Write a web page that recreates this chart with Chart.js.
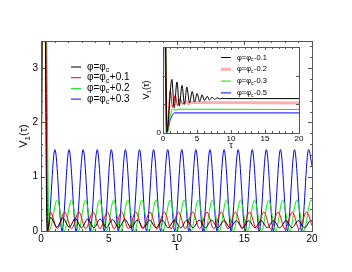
<!DOCTYPE html>
<html>
<head>
<meta charset="utf-8">
<script src="https://cdn.jsdelivr.net/npm/chart.js@4.4.0/dist/chart.umd.min.js"></script>
<style>
  body { margin: 0; background: #fff; }
  #wrap { position: relative; width: 352px; height: 272px; }
  canvas { position: absolute; left: 0; top: 0; }
</style>
</head>
<body>
<div id="wrap">
  <canvas id="main" width="352" height="272"></canvas>
  <canvas id="inset" width="352" height="272"></canvas>
</div>
<script>
// main panel: V1(tau), peaks and troughs
const mainLabels = ['+0', '+0.1', '+0.2', '+0.3'];
const mainColors = ['#000000', '#ff0000', '#00ee00', '#0000ff'];
const xTicks = [0, 5, 10, 15, 20];
const yTicks = [0, 1, 2, 3];

const seriesBlack = [[0,0],[0.18,8],[0.45,0],[0.71,0.25],[1.17,0.07],[1.62,0.24],[2.08,0.07],[2.54,0.23],[2.99,0.06],[3.45,0.22],[3.91,0.06],[4.37,0.22],[4.82,0.06],[5.28,0.21],[5.74,0.06],[6.19,0.21],[6.65,0.06],[7.11,0.2],[7.56,0.06],[8.02,0.2],[8.48,0.06],[8.94,0.2],[9.39,0.06],[9.85,0.2],[10.31,0.06],[10.76,0.2],[11.22,0.06],[11.68,0.2],[12.13,0.06],[12.59,0.2],[13.05,0.06],[13.51,0.19],[13.96,0.06],[14.42,0.19],[14.87,0.06],[15.33,0.19],[15.79,0.06],[16.25,0.19],[16.7,0.06],[17.16,0.19],[17.62,0.06],[18.08,0.19],[18.53,0.06],[18.99,0.19],[19.45,0.06],[19.9,0.19],[20,0.18]];
const seriesRed = [[0,0],[0.2,8],[0.5,0],[0.7,0.35],[1.2,0.04],[1.75,0.35],[2.25,0.04],[2.8,0.35],[3.3,0.04],[3.85,0.35],[4.35,0.04],[4.9,0.35],[5.4,0.04],[5.95,0.35],[6.45,0.04],[7.0,0.35],[7.5,0.04],[8.05,0.35],[8.55,0.04],[9.1,0.35],[9.6,0.04],[10.15,0.35],[10.65,0.04],[11.2,0.35],[11.7,0.04],[12.25,0.35],[12.75,0.04],[13.3,0.35],[13.8,0.04],[14.35,0.35],[14.85,0.04],[15.4,0.35],[15.9,0.04],[16.45,0.35],[16.95,0.04],[17.5,0.35],[18.0,0.04],[18.55,0.35],[19.05,0.04],[19.6,0.35],[20,0.1]];
const seriesGreen = [[0,0],[0.22,8],[0.6,0],[1.2,0.57],[1.72,0],[2.24,0.57],[2.76,0],[3.28,0.57],[3.8,0],[4.32,0.57],[4.84,0],[5.36,0.57],[5.88,0],[6.4,0.57],[6.92,0],[7.44,0.57],[7.96,0],[8.48,0.57],[9.0,0],[9.52,0.57],[10.04,0],[10.56,0.57],[11.08,0],[11.6,0.57],[12.12,0],[12.64,0.57],[13.16,0],[13.68,0.57],[14.2,0],[14.72,0.57],[15.24,0],[15.76,0.57],[16.28,0],[16.8,0.57],[17.32,0],[17.84,0.57],[18.36,0],[18.88,0.57],[19.4,0],[19.92,0.57],[20,0.55]];
const seriesBlue = [[0,0],[0.2,8],[0.5,0],[1.03,1.5],[1.55,0],[2.07,1.5],[2.59,0],[3.11,1.5],[3.63,0],[4.15,1.5],[4.67,0],[5.19,1.5],[5.71,0],[6.23,1.5],[6.75,0],[7.27,1.5],[7.79,0],[8.31,1.5],[8.83,0],[9.35,1.5],[9.87,0],[10.39,1.5],[10.91,0],[11.43,1.5],[11.95,0],[12.47,1.5],[12.99,0],[13.51,1.5],[14.03,0],[14.55,1.5],[15.07,0],[15.59,1.5],[16.11,0],[16.63,1.5],[17.15,0],[17.67,1.5],[18.19,0],[18.71,1.5],[19.23,0],[19.75,1.5],[20,1.2]];

// inset panel
const insetLabels = ['-0.1', '-0.2', '-0.3', '-0.5'];
const insetColors = ['#000000', '#ff0000', '#00ee00', '#0000ff'];
const insetXTicks = [0, 5, 10, 15, 20];
const insetYTicks = [0];

const insetBlack = [[0,0],[0.18,6],[0.6,0.05],[1.3,1.87],[1.65,0.88],[2.05,1.78],[2.4,0.95],[2.8,1.66],[3.15,1.0],[3.5,1.6],[3.9,1.05],[4.3,1.45],[4.65,1.08],[5.0,1.38],[5.4,1.1],[5.75,1.33],[6.1,1.13],[6.5,1.28],[6.85,1.15],[7.2,1.25],[7.6,1.17],[7.95,1.23],[8.3,1.19],[8.7,1.21],[9.2,1.2],[20,1.2]];
const insetRed = [[0,0],[0.2,6],[0.6,0.05],[1.07,1.49],[1.4,0.9],[1.8,1.32],[2.15,0.95],[2.5,1.2],[2.9,1.0],[3.3,1.1],[3.7,1.03],[4.2,1.06],[20,1.05]];
const insetGreen = [[0,0],[0.22,6],[0.65,0],[1.0,0.5],[1.4,0.84],[1.8,0.8],[2.3,0.83],[20,0.82]];
const insetBlue = [[0,0],[0.15,6],[0.5,0],[1.1,0.48],[1.7,0.7],[20,0.7]];

function toPoints(arr){
    return arr.map(p => ({x: p[0], y: p[1]}));
}

function makeDataset(arr, color, width){
    return {
        data: toPoints(arr),
        borderColor: color,
        borderWidth: width,
        pointRadius: 0,
        cubicInterpolationMode: 'monotone',
        fill: false
    };
}

// draws frame + inward tick marks on all four sides
function frameTicks(xMajor, xMinor, yMajor, yMinor, majLen, minLen){
    return {
        id: 'frameTicks',
        afterDatasetsDraw(chart){
            const ctx = chart.ctx;
            const a = chart.chartArea;
            const xs = chart.scales.x, ys = chart.scales.y;
            ctx.save();
            ctx.strokeStyle = '#555';
            ctx.lineWidth = 1;
            ctx.strokeRect(Math.round(a.left) + 0.5, Math.round(a.top) + 0.5, Math.round(a.right - a.left), Math.round(a.bottom - a.top));
            ctx.beginPath();
            for(let v = xs.min; v <= xs.max + 1e-9; v += xMinor){
                let len = Math.abs(v / xMajor - Math.round(v / xMajor)) < 1e-6 ? majLen : minLen;
                let px = Math.round(xs.getPixelForValue(v)) + 0.5;
                ctx.moveTo(px, a.bottom); ctx.lineTo(px, a.bottom - len);
                ctx.moveTo(px, a.top); ctx.lineTo(px, a.top + len);
            }
            for(let v = ys.min; v <= ys.max + 1e-9; v += yMinor){
                let len = Math.abs(v / yMajor - Math.round(v / yMajor)) < 1e-6 ? majLen : minLen;
                let py = Math.round(ys.getPixelForValue(v)) + 0.5;
                ctx.moveTo(a.left, py); ctx.lineTo(a.left + len, py);
                ctx.moveTo(a.right, py); ctx.lineTo(a.right - len, py);
            }
            ctx.stroke();
            ctx.restore();
        }
    };
}

// legend + axis titles with subscripts, drawn as canvas text
function phiLabel(ctx, x, y, suffix, size){
    ctx.font = size + 'px "Liberation Sans", Arial, sans-serif';
    ctx.textBaseline = 'middle';
    ctx.textAlign = 'left';
    let t = '\u03c6=\u03c6';
    ctx.fillText(t, x, y);
    let w = ctx.measureText(t).width;
    ctx.font = Math.round(size * 0.7) + 'px "Liberation Sans", Arial, sans-serif';
    ctx.fillText('c', x + w, y + size * 0.3);
    let wc = ctx.measureText('c').width;
    ctx.font = size + 'px "Liberation Sans", Arial, sans-serif';
    if(suffix) ctx.fillText(suffix, x + w + wc + 0.5, y);
}

function vTitle(ctx, cx, cy, size){
    ctx.save();
    ctx.translate(cx, cy);
    ctx.rotate(-Math.PI / 2);
    ctx.textBaseline = 'middle';
    ctx.textAlign = 'left';
    ctx.font = size + 'px "Liberation Sans", Arial, sans-serif';
    let wV = ctx.measureText('V').width;
    ctx.font = Math.round(size * 0.7) + 'px "Liberation Sans", Arial, sans-serif';
    let w1 = ctx.measureText('1').width;
    ctx.font = size + 'px "Liberation Sans", Arial, sans-serif';
    let wT = ctx.measureText('(\u03c4)').width;
    let x0 = -(wV + w1 + wT) / 2;
    ctx.fillText('V', x0, 0);
    ctx.font = Math.round(size * 0.7) + 'px "Liberation Sans", Arial, sans-serif';
    ctx.fillText('1', x0 + wV, size * 0.3);
    ctx.font = size + 'px "Liberation Sans", Arial, sans-serif';
    ctx.fillText('(\u03c4)', x0 + wV + w1, 0);
    ctx.restore();
}

function decorations(opts){
    return {
        id: 'decorations',
        afterDraw(chart){
            const ctx = chart.ctx;
            const a = chart.chartArea;
            ctx.save();
            ctx.fillStyle = '#000';
            vTitle(ctx, opts.vx, (a.top + a.bottom) / 2 + opts.vdy, opts.titleSize);
            ctx.font = opts.titleSize + 'px "Liberation Sans", Arial, sans-serif';
            ctx.textAlign = 'center';
            ctx.textBaseline = 'middle';
            ctx.fillText('\u03c4', (a.left + a.right) / 2, opts.tauY);
            opts.labels.forEach((lab, i) => {
                let y = opts.legY + i * opts.legGap;
                ctx.strokeStyle = opts.colors[i];
                ctx.lineWidth = opts.legWidths[i];
                ctx.beginPath();
                ctx.moveTo(opts.legX, y); ctx.lineTo(opts.legX + opts.legLen, y);
                ctx.stroke();
                ctx.fillStyle = '#000';
                phiLabel(ctx, opts.legX + opts.legLen + 6, y, lab === '+0' ? '' : lab, opts.legSize);
            });
            ctx.restore();
        }
    };
}

function tickFont(size){
    return {family: '"Liberation Sans", Arial, sans-serif', size: size};
}

// main chart
new Chart(document.getElementById('main'), {
    type: 'line',
    data: {
        datasets: [
            makeDataset(seriesBlack, mainColors[0], 1),
            makeDataset(seriesRed, mainColors[1], 1),
            makeDataset(seriesGreen, mainColors[2], 1),
            makeDataset(seriesBlue, mainColors[3], 1)
        ]
    },
    options: {
        responsive: false,
        animation: false,
        events: [],
        layout: {padding: {left: 6, right: 40, top: 41, bottom: 27}},
        plugins: {legend: {display: false}, tooltip: {enabled: false}},
        scales: {
            x: {
                type: 'linear', min: 0, max: 20,
                grid: {display: false, drawTicks: false}, border: {display: false},
                afterBuildTicks: s => { s.ticks = xTicks.map(v => ({value: v})); },
                afterFit: s => { s.height = 14; },
                ticks: {color: '#000', font: tickFont(10), padding: 2, maxRotation: 0}
            },
            y: {
                type: 'linear', min: 0, max: 3.5,
                grid: {display: false, drawTicks: false}, border: {display: false},
                afterBuildTicks: s => { s.ticks = yTicks.map(v => ({value: v})); },
                afterFit: s => { s.width = 35; },
                ticks: {color: '#000', font: tickFont(10), padding: 3}
            }
        }
    },
    plugins: [
        frameTicks(5, 1, 1, 0.2, 4, 2),
        decorations({
            vx: 24, vdy: 0, titleSize: 11, tauY: 247,
            labels: mainLabels, colors: mainColors, legWidths: [1, 1, 1, 1],
            legX: 71, legLen: 10, legY: 67, legGap: 10.7, legSize: 10
        })
    ]
});

// inset chart
new Chart(document.getElementById('inset'), {
    type: 'line',
    data: {
        datasets: [
            makeDataset(insetBlack, insetColors[0], 1),
            Object.assign(makeDataset(insetRed, insetColors[1], 1), {
                segment: {
                    borderColor: c => c.p0.parsed.x >= 3 ? 'rgba(255,120,120,0.6)' : '#ff0000',
                    borderWidth: c => c.p0.parsed.x >= 3 ? 3 : 1
                }
            }),
            makeDataset(insetGreen, insetColors[2], 1),
            makeDataset(insetBlue, insetColors[3], 1)
        ]
    },
    options: {
        responsive: false,
        animation: false,
        events: [],
        layout: {padding: {left: 153, right: 53, top: 47, bottom: 126}},
        plugins: {legend: {display: false}, tooltip: {enabled: false}},
        scales: {
            x: {
                type: 'linear', min: 0, max: 20,
                grid: {display: false, drawTicks: false}, border: {display: false},
                afterBuildTicks: s => { s.ticks = insetXTicks.map(v => ({value: v})); },
                afterFit: s => { s.height = 13; },
                ticks: {color: '#000', font: tickFont(8), padding: 1, maxRotation: 0}
            },
            y: {
                type: 'linear', min: 0, max: 3,
                grid: {display: false, drawTicks: false}, border: {display: false},
                afterBuildTicks: s => { s.ticks = insetYTicks.map(v => ({value: v})); },
                afterFit: s => { s.width = 10; },
                ticks: {color: '#000', font: tickFont(8), padding: 2}
            }
        }
    },
    plugins: [
        frameTicks(5, 1, 1, 1, 3, 2),
        decorations({
            vx: 147, vdy: 0, titleSize: 9, tauY: 146,
            labels: insetLabels, colors: ['#000000', 'rgba(255,120,120,0.6)', '#00ee00', '#0000ff'], legWidths: [1, 3, 1, 1],
            legX: 221, legLen: 10, legY: 57.5, legGap: 11.8, legSize: 7.5
        })
    ]
});
</script>
</body>
</html>
